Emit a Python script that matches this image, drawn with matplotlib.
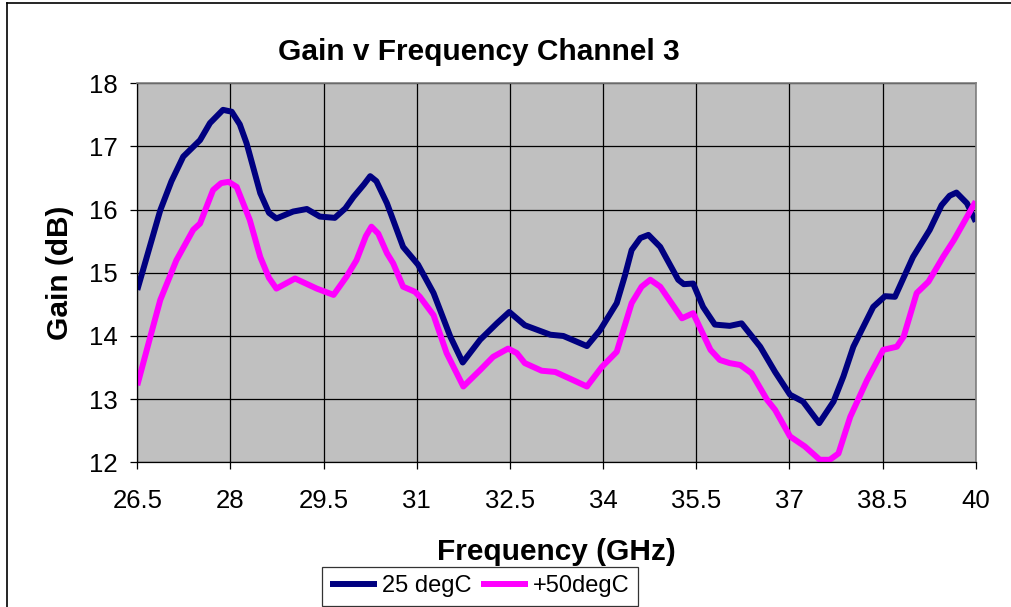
import matplotlib
matplotlib.use("Agg")
import matplotlib.pyplot as plt
from matplotlib.lines import Line2D


# Gain v frequency, 25 degC
freq_25 = [
    26.50, 26.87, 27.05, 27.24, 27.51, 27.67, 27.88, 28.02, 28.15, 28.26,
    28.48, 28.62, 28.74, 29.01, 29.23, 29.44, 29.68, 29.85, 29.98, 30.15,
    30.25, 30.35, 30.52, 30.78, 31.02, 31.27, 31.54, 31.74, 32.02, 32.29,
    32.49, 32.74, 33.15, 33.36, 33.74, 33.95, 34.22, 34.35, 34.46, 34.60,
    34.73, 34.92, 35.02, 35.21, 35.30, 35.45, 35.61, 35.80, 36.04, 36.23,
    36.53, 36.77, 37.01, 37.22, 37.48, 37.71, 37.87, 38.03, 38.35, 38.54,
    38.70, 38.99, 39.26, 39.45, 39.58, 39.69, 39.86, 40.00,
]
gain_25 = [
    14.73, 15.99, 16.45, 16.84, 17.10, 17.37, 17.58, 17.55, 17.35, 17.05,
    16.26, 15.95, 15.86, 15.97, 16.01, 15.89, 15.87, 16.02, 16.20, 16.40,
    16.53, 16.45, 16.10, 15.41, 15.13, 14.68, 13.99, 13.58, 13.94, 14.20,
    14.38, 14.17, 14.02, 14.00, 13.84, 14.09, 14.52, 14.95, 15.36, 15.55,
    15.60, 15.41, 15.23, 14.89, 14.82, 14.83, 14.46, 14.18, 14.16, 14.20,
    13.83, 13.43, 13.07, 12.96, 12.62, 12.96, 13.36, 13.83, 14.46, 14.63,
    14.62, 15.25, 15.68, 16.07, 16.22, 16.27, 16.10, 15.81,
]

# Gain v frequency, +50 degC
freq_50 = [
    26.50, 26.71, 26.87, 27.13, 27.40, 27.51, 27.72, 27.85, 27.97, 28.10,
    28.31, 28.48, 28.62, 28.74, 29.04, 29.39, 29.66, 29.87, 30.03, 30.18,
    30.27, 30.38, 30.52, 30.62, 30.78, 30.97, 31.05, 31.27, 31.48, 31.75,
    32.02, 32.23, 32.47, 32.61, 32.74, 33.01, 33.23, 33.52, 33.74, 33.98,
    34.22, 34.46, 34.62, 34.76, 34.92, 35.27, 35.45, 35.73, 35.88, 36.04,
    36.21, 36.39, 36.64, 36.77, 37.01, 37.25, 37.49, 37.65, 37.79, 37.98,
    38.25, 38.51, 38.73, 38.84, 39.05, 39.24, 39.48, 39.65, 40.00,
]
gain_50 = [
    13.22, 13.99, 14.57, 15.20, 15.68, 15.78, 16.31, 16.42, 16.44, 16.36,
    15.84, 15.25, 14.92, 14.75, 14.91, 14.75, 14.65, 14.94, 15.20, 15.58,
    15.73, 15.62, 15.31, 15.15, 14.78, 14.70, 14.62, 14.33, 13.73, 13.20,
    13.46, 13.67, 13.80, 13.73, 13.57, 13.45, 13.43, 13.30, 13.20, 13.51,
    13.75, 14.52, 14.78, 14.89, 14.78, 14.28, 14.36, 13.78, 13.62, 13.57,
    13.54, 13.41, 12.99, 12.83, 12.41, 12.25, 12.04, 12.04, 12.14, 12.72,
    13.30, 13.78, 13.83, 13.99, 14.68, 14.86, 15.26, 15.52, 16.13,
]

x_ticks = [26.5, 28, 29.5, 31, 32.5, 34, 35.5, 37, 38.5, 40]
x_tick_labels = ["26.5", "28", "29.5", "31", "32.5", "34", "35.5", "37", "38.5", "40"]
y_ticks = [12, 13, 14, 15, 16, 17, 18]

plt.rcParams["font.family"] = ["Liberation Sans", "DejaVu Sans"]

W, H = 1011, 607
fig = plt.figure(figsize=(W / 100, H / 100), dpi=100)
ax = fig.add_axes([137.3 / W, 1 - 462.3 / H, (975.7 - 137.3) / W, (462.3 - 83.3) / H])

ax.set_facecolor("#C0C0C0")
ax.plot(freq_25, gain_25, color="#000080", lw=4.3, label="25 degC",
        solid_joinstyle="round", solid_capstyle="butt")
ax.plot(freq_50, gain_50, color="#FF00FF", lw=4.3, label="+50degC",
        solid_joinstyle="round", solid_capstyle="butt")

ax.set_xlim(26.5, 40)
ax.set_ylim(12, 18)
ax.set_xticks(x_ticks)
ax.set_xticklabels(x_tick_labels)
ax.set_yticks(y_ticks)
ax.grid(True, color="black", lw=0.9)
ax.set_axisbelow(True)
ax.tick_params(axis="both", direction="out", length=5, width=0.9, labelsize=18.5)
ax.tick_params(axis="x", pad=14)
ax.tick_params(axis="y", pad=9)

for side in ("left", "bottom"):
    ax.spines[side].set_color("black")
    ax.spines[side].set_linewidth(0.9)
for side in ("top", "right"):
    ax.spines[side].set_color("#808080")
    ax.spines[side].set_linewidth(1.2)

ax.set_xlabel("Frequency (GHz)", fontsize=21.5, fontweight="bold", labelpad=18)
ax.set_ylabel("Gain (dB)", fontsize=21.5, fontweight="bold", labelpad=11)
fig.text(479 / W, 1 - 60 / H, "Gain v Frequency Channel 3", fontsize=21.5,
         fontweight="bold", ha="center", va="baseline")

leg = ax.legend(loc="upper left", bbox_to_anchor=(322 / W, 1 - 567 / H),
                bbox_transform=fig.transFigure, ncol=2, fontsize=17,
                frameon=True, fancybox=False, handlelength=2.0,
                handletextpad=0.2, columnspacing=0.4, borderpad=0.35,
                borderaxespad=0)
leg.get_frame().set_edgecolor("black")
leg.get_frame().set_linewidth(0.9)

# chart area border (top and left edges visible)
fig.add_artist(Line2D([7 / W, 1], [1 - 2.5 / H, 1 - 2.5 / H], color="black", lw=1.2))
fig.add_artist(Line2D([7 / W, 7 / W], [0, 1 - 2.5 / H], color="black", lw=1.2))

fig.savefig("out.png", dpi=100)
